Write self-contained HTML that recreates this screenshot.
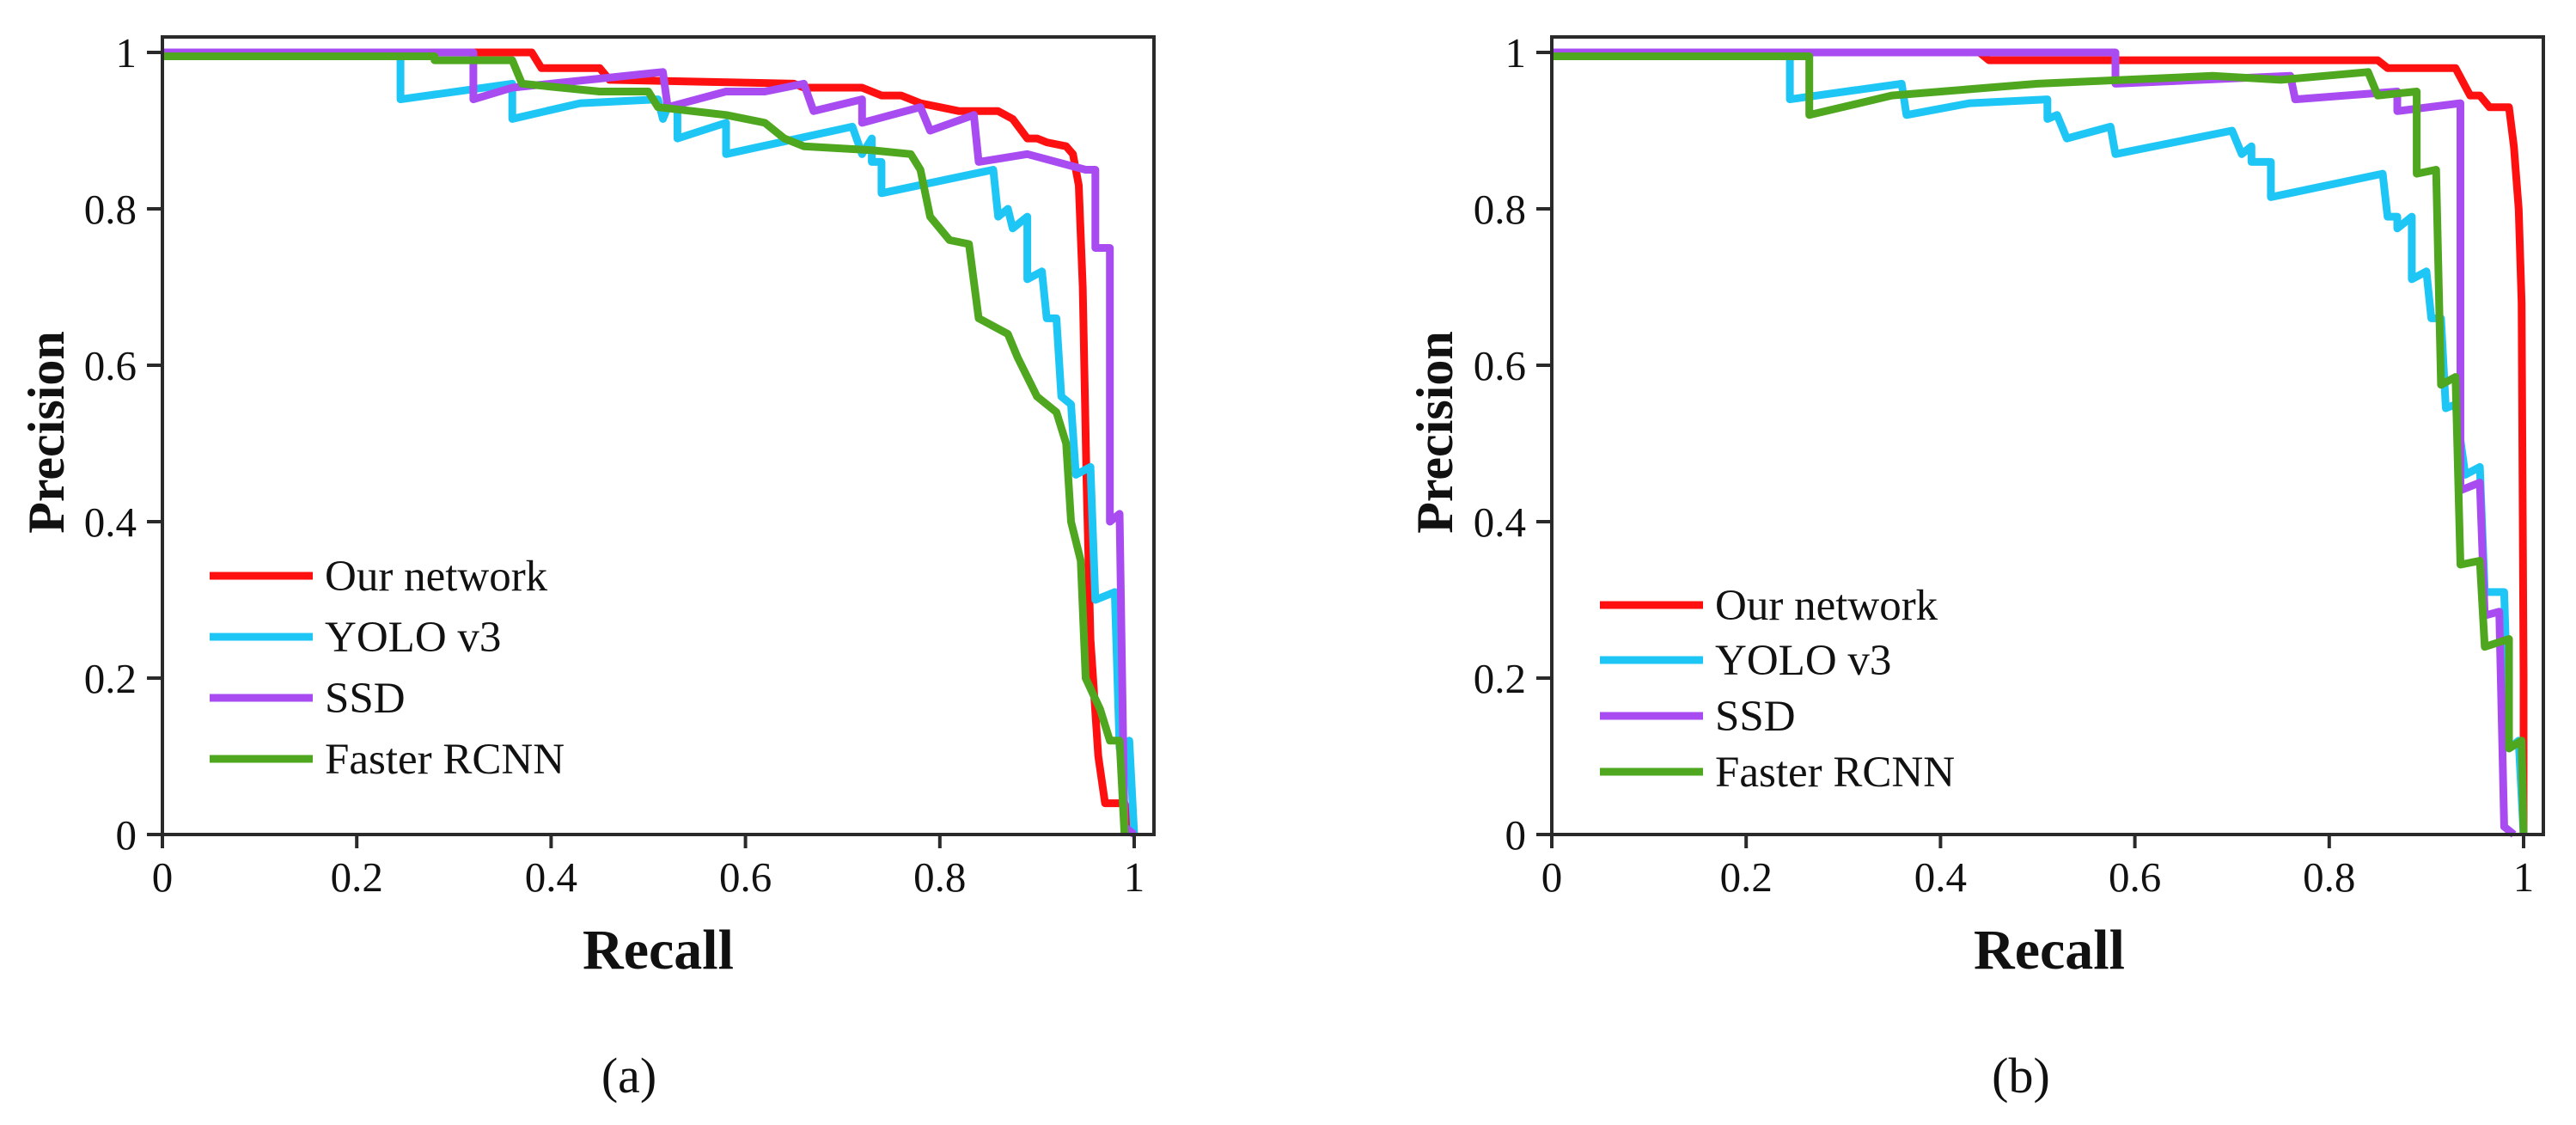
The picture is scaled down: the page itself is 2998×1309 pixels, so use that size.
<!DOCTYPE html>
<html><head><meta charset="utf-8">
<style>
html,body{margin:0;padding:0;background:#fff;overflow:hidden;}
svg{display:block;}
text{font-family:"Liberation Serif",serif;fill:#111;}
</style></head>
<body>
<svg id="fig" width="2998" height="1309" viewBox="0 0 2998 1309" xmlns="http://www.w3.org/2000/svg"></svg>
<script>
const xTicks = [0, 0.2, 0.4, 0.6, 0.8, 1];
const yTicks = [0, 0.2, 0.4, 0.6, 0.8, 1];
const xTickLabels = ["0", "0.2", "0.4", "0.6", "0.8", "1"];
const yTickLabels = ["0", "0.2", "0.4", "0.6", "0.8", "1"];
const seriesNames = ["Our network", "YOLO v3", "SSD", "Faster RCNN"];
const seriesColors = ["#ff1010", "#1ec6f6", "#a84cf2", "#4ea71e"];

const aRed = [[0,1],[0.38,1],[0.39,0.98],[0.45,0.98],[0.46,0.965],[0.65,0.96],[0.66,0.955],[0.72,0.955],[0.74,0.945],[0.76,0.945],[0.78,0.935],[0.80,0.93],[0.82,0.925],[0.86,0.925],[0.875,0.915],[0.89,0.89],[0.90,0.89],[0.91,0.885],[0.93,0.88],[0.937,0.87],[0.943,0.83],[0.947,0.7],[0.951,0.45],[0.955,0.25],[0.963,0.1],[0.97,0.04],[0.99,0.04],[1.0,0.0]];
const aCyan = [[0,1],[0.245,1],[0.245,0.94],[0.36,0.96],[0.36,0.915],[0.43,0.935],[0.51,0.94],[0.515,0.915],[0.52,0.93],[0.53,0.93],[0.53,0.89],[0.58,0.91],[0.58,0.87],[0.71,0.905],[0.72,0.87],[0.73,0.89],[0.73,0.86],[0.74,0.86],[0.74,0.82],[0.855,0.85],[0.86,0.79],[0.87,0.8],[0.875,0.775],[0.89,0.79],[0.89,0.71],[0.905,0.72],[0.91,0.66],[0.92,0.66],[0.925,0.56],[0.935,0.55],[0.94,0.46],[0.955,0.47],[0.96,0.3],[0.98,0.31],[0.985,0.11],[0.995,0.12],[1.0,0.0]];
const aPurple = [[0,1],[0.32,1],[0.32,0.94],[0.36,0.955],[0.515,0.975],[0.52,0.93],[0.58,0.95],[0.62,0.95],[0.66,0.96],[0.67,0.925],[0.72,0.94],[0.72,0.91],[0.78,0.93],[0.79,0.9],[0.835,0.92],[0.84,0.86],[0.89,0.87],[0.95,0.85],[0.96,0.85],[0.96,0.75],[0.975,0.75],[0.975,0.4],[0.985,0.41],[0.99,0.01],[1.0,0.0]];
const aGreen = [[0,0.995],[0.28,0.995],[0.28,0.99],[0.36,0.99],[0.37,0.96],[0.45,0.95],[0.5,0.95],[0.51,0.93],[0.58,0.92],[0.62,0.91],[0.64,0.89],[0.66,0.88],[0.73,0.875],[0.77,0.87],[0.78,0.85],[0.79,0.79],[0.81,0.76],[0.83,0.755],[0.84,0.66],[0.87,0.64],[0.88,0.61],[0.9,0.56],[0.92,0.54],[0.93,0.5],[0.935,0.4],[0.945,0.35],[0.95,0.2],[0.965,0.16],[0.975,0.12],[0.985,0.12],[0.99,0.0]];

const bRed = [[0,1],[0.44,1],[0.45,0.99],[0.85,0.99],[0.86,0.98],[0.93,0.98],[0.945,0.945],[0.955,0.945],[0.965,0.93],[0.985,0.93],[0.99,0.88],[0.995,0.8],[0.998,0.68],[1.0,0.2],[1.0,0.0]];
const bCyan = [[0,1],[0.245,1],[0.245,0.94],[0.36,0.96],[0.365,0.92],[0.43,0.935],[0.51,0.94],[0.51,0.915],[0.52,0.92],[0.53,0.89],[0.575,0.905],[0.58,0.87],[0.7,0.9],[0.71,0.87],[0.72,0.88],[0.72,0.86],[0.74,0.86],[0.74,0.815],[0.855,0.845],[0.86,0.79],[0.87,0.79],[0.87,0.775],[0.885,0.79],[0.885,0.71],[0.9,0.72],[0.905,0.66],[0.915,0.66],[0.92,0.545],[0.93,0.55],[0.94,0.46],[0.955,0.47],[0.96,0.31],[0.98,0.31],[0.985,0.11],[0.995,0.12],[1.0,0.0]];
const bPurple = [[0,1],[0.58,1],[0.58,0.96],[0.76,0.97],[0.765,0.94],[0.87,0.95],[0.87,0.925],[0.935,0.935],[0.935,0.44],[0.955,0.45],[0.96,0.28],[0.975,0.285],[0.98,0.01],[0.99,0.0]];
const bGreen = [[0,0.995],[0.265,0.995],[0.265,0.92],[0.35,0.945],[0.5,0.96],[0.68,0.97],[0.75,0.965],[0.84,0.975],[0.85,0.945],[0.89,0.95],[0.89,0.845],[0.91,0.85],[0.915,0.575],[0.93,0.585],[0.935,0.345],[0.955,0.35],[0.96,0.24],[0.985,0.25],[0.985,0.11],[0.998,0.12],[1.0,0.0]];

const NS = "http://www.w3.org/2000/svg";
const svg = document.getElementById('fig');
function mk(tag, attrs, parent){
  const e = document.createElementNS(NS, tag);
  for (const k in attrs) e.setAttribute(k, attrs[k]);
  parent.appendChild(e);
  return e;
}

function drawPanel(cfg, series, panelName){
  const g = mk('g', {}, svg);
  
  
  const xs = v => cfg.x0 + v * (cfg.x1 - cfg.x0);
  const ys = v => cfg.y0 - v * (cfg.y0 - cfg.y1);

  series.forEach((pts, i) => {
    const p = mk('polyline', {points: pts.map(d => xs(d[0]).toFixed(1) + ',' + ys(d[1]).toFixed(1)).join(' '), fill:'none', stroke: seriesColors[i], 'stroke-width': 9, 'stroke-linejoin':'round'}, g);
    
    
  });

  const box = mk('rect', {x: cfg.x0, y: cfg.top, width: cfg.right - cfg.x0, height: cfg.y0 - cfg.top, fill:'none', stroke:'#2a2a2a', 'stroke-width':4}, g);
  
  

  xTicks.forEach((t, i) => {
    const l = mk('line', {x1: xs(t), x2: xs(t), y1: cfg.y0, y2: cfg.y0 + 16, stroke:'#2a2a2a', 'stroke-width':4}, g);
    
    
    const tx = mk('text', {x: xs(t), y: cfg.y0 + 66, 'font-size': 49, 'text-anchor':'middle'}, g);
    tx.textContent = xTickLabels[i];
    
    
  });
  yTicks.forEach((t, i) => {
    const l = mk('line', {x1: cfg.x0 - 18, x2: cfg.x0, y1: ys(t), y2: ys(t), stroke:'#2a2a2a', 'stroke-width':4}, g);
    
    
    const tx = mk('text', {x: cfg.x0 - 30, y: ys(t) + 17, 'font-size': 49, 'text-anchor':'end'}, g);
    tx.textContent = yTickLabels[i];
    
    
  });

  const xt = mk('text', {x: cfg.xTitleX, y: 1127, 'font-size': 66, 'font-weight':'bold', 'text-anchor':'middle'}, g);
  xt.textContent = 'Recall';
  
  
  const yt = mk('text', {x: 0, y: 0, 'font-size': 60, 'font-weight':'bold', 'text-anchor':'middle', transform: 'translate(' + cfg.yTitleX + ',503) rotate(-90)'}, g);
  yt.textContent = 'Precision';
  
  

  const cap = mk('text', {x: cfg.capX, y: 1271, 'font-size': 58, 'text-anchor':'middle'}, g);
  cap.textContent = cfg.caption;
  
  

  seriesNames.forEach((n, i) => {
    const y = cfg.legY[i];
    const ln = mk('line', {x1: cfg.legX, x2: cfg.legX + 120, y1: y, y2: y, stroke: seriesColors[i], 'stroke-width': 9}, g);
    
    
    const tx = mk('text', {x: cfg.legX + 134, y: y + 17, 'font-size': 51}, g);
    tx.textContent = n;
    
    
  });
}

drawPanel({x0:189, x1:1320, y0:971, y1:61, top:43, right:1343, xTitleX:766, yTitleX:74, capX:732, caption:'(a)', legX:244, legY:[670,741,812,883]}, [aRed, aCyan, aPurple, aGreen], 'panel-a');
drawPanel({x0:1806, x1:2937, y0:971, y1:61, top:43, right:2960, xTitleX:2385, yTitleX:1690, capX:2352, caption:'(b)', legX:1862, legY:[704,768,833,898]}, [bRed, bCyan, bPurple, bGreen], 'panel-b');
</script>
</body></html>
